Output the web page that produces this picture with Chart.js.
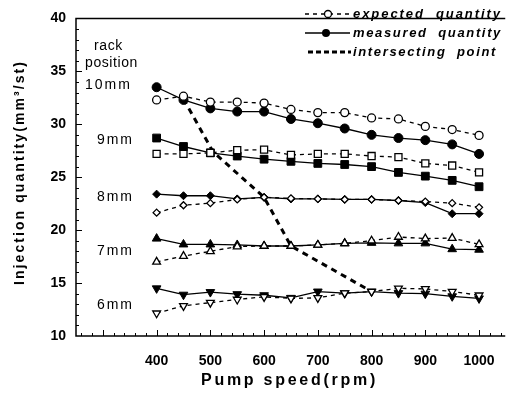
<!DOCTYPE html>
<html>
<head>
<meta charset="utf-8">
<script src="https://cdn.jsdelivr.net/npm/chart.js@4/dist/chart.umd.min.js"></script>
<style>
  html, body { margin: 0; padding: 0; background: #fff; }
  #wrap { width: 512px; height: 401px; }
</style>
</head>
<body>
<div id="wrap"><canvas id="chart"></canvas></div>
<script>
// pump speed (rpm)
const speeds = [400, 450, 500, 550, 600, 650, 700, 750, 800, 850, 900, 950, 1000];

// injection quantity (mm3/st) per rack position
const expected10 = [32.3, 32.65, 32.1, 32.1, 32.0, 31.4, 31.1, 31.1, 30.6, 30.5, 29.8, 29.5, 28.95];
const measured10 = [33.5, 32.3, 31.5, 31.2, 31.2, 30.5, 30.1, 29.6, 29.0, 28.7, 28.5, 28.1, 27.2];
const expected9 = [27.2, 27.2, 27.3, 27.55, 27.6, 27.1, 27.2, 27.2, 27.0, 26.9, 26.3, 26.1, 25.45];
const measured9 = [28.7, 27.9, 27.3, 27.0, 26.7, 26.5, 26.3, 26.2, 26.0, 25.45, 25.1, 24.7, 24.1];
const expected8 = [21.65, 22.35, 22.55, 22.9, 23.1, 23.0, 22.95, 22.9, 22.9, 22.8, 22.7, 22.55, 22.15];
const measured8 = [23.4, 23.25, 23.25, 22.95, 23.1, 22.95, 22.95, 22.9, 22.9, 22.8, 22.6, 21.55, 21.55];
const expected7 = [17.0, 17.55, 18.0, 18.45, 18.5, 18.5, 18.6, 18.75, 19.0, 19.35, 19.2, 19.25, 18.65];
const measured7 = [19.2, 18.65, 18.65, 18.6, 18.5, 18.5, 18.6, 18.75, 18.8, 18.75, 18.75, 18.2, 18.15];
const expected6 = [12.15, 12.85, 13.15, 13.45, 13.7, 13.55, 13.6, 14.05, 14.2, 14.5, 14.45, 14.2, 13.85];
const measured6 = [14.5, 13.9, 14.15, 13.95, 13.85, 13.6, 14.2, 14.05, 14.2, 14.05, 14.0, 13.75, 13.55];

// intersecting point line
const intersectX = [450, 505, 600, 650, 800];
const intersectY = [32.4, 27.4, 23.1, 18.5, 14.2];

// axis ticks
const xTicks = [400, 500, 600, 700, 800, 900, 1000];
const yTicks = [10, 15, 20, 25, 30, 35, 40];
const rackLabels = ["10mm", "9mm", "8mm", "7mm", "6mm"];

const FONT = "'Liberation Sans', Arial, sans-serif";

function pts(xs, ys) {
    return xs.map((x, i) => ({ x: x, y: ys[i] }));
}

function expectedSet(ys, style, r, rot) {
    return {
        data: pts(speeds, ys), showLine: true,
        borderColor: "#000", borderWidth: 1.3, borderDash: [4, 4],
        pointStyle: style, pointRadius: r, pointRotation: rot || 0,
        pointBackgroundColor: "#fff", pointBorderColor: "#000", pointBorderWidth: 1.3
    };
}

function measuredSet(ys, style, r, rot) {
    return {
        data: pts(speeds, ys), showLine: true,
        borderColor: "#000", borderWidth: 1.3,
        pointStyle: style, pointRadius: r, pointRotation: rot || 0,
        pointBackgroundColor: "#000", pointBorderColor: "#000", pointBorderWidth: 1
    };
}

// draw text spread out to a given width (the original uses wide spacing)
function spreadText(ctx, text, x, y, width) {
    ctx.letterSpacing = "0px";
    const w = ctx.measureText(text).width;
    const sp = Math.max(0, (width - w) / text.length);
    ctx.letterSpacing = sp + "px";
    ctx.textAlign = "left";
    ctx.fillText(text, x, y);
    ctx.letterSpacing = "0px";
}

// frame, inward ticks, titles, legend and rack labels
const decor = {
    id: "decor",
    afterDraw(chart) {
        const ctx = chart.ctx;
        const a = chart.chartArea;
        const xs = chart.scales.x, ys = chart.scales.y;
        ctx.save();
        ctx.strokeStyle = "#000";
        ctx.fillStyle = "#000";
        ctx.lineWidth = 1.5;
        ctx.beginPath();
        ctx.moveTo(a.right + 2, a.top);
        ctx.lineTo(a.left, a.top);
        ctx.lineTo(a.left, a.bottom);
        ctx.lineTo(a.right + 2, a.bottom);
        ctx.stroke();

        ctx.lineWidth = 1;
        ctx.beginPath();
        for (let v = 260; v <= 1040; v += 20) {
            const px = Math.round(xs.getPixelForValue(v)) + 0.5;
            const len = v % 100 === 0 ? 6 : 3;
            ctx.moveTo(px, a.bottom);
            ctx.lineTo(px, a.bottom - len);
        }
        for (let v = 11; v < 40; v++) {
            const py = Math.round(ys.getPixelForValue(v)) + 0.5;
            const len = v % 5 === 0 ? 6 : 3;
            ctx.moveTo(a.left, py);
            ctx.lineTo(a.left + len, py);
        }
        ctx.stroke();

        // axis titles
        ctx.textBaseline = "middle";
        ctx.font = "bold 16px " + FONT;
        spreadText(ctx, "Pump speed(rpm)", 201, 381, 177);
        ctx.save();
        ctx.translate(20, 285);
        ctx.rotate(-Math.PI / 2);
        ctx.font = "bold 14px " + FONT;
        spreadText(ctx, "Injection quantity(mm³/st)", 0, 0, 225);
        ctx.restore();

        // legend
        ctx.font = "italic bold 13px " + FONT;
        const lx0 = 305, lx1 = 350, tx = 353;
        const rows = [14, 33, 52];

        ctx.lineWidth = 1.3;
        ctx.setLineDash([4, 4]);
        ctx.beginPath(); ctx.moveTo(lx0, rows[0]); ctx.lineTo(lx1, rows[0]); ctx.stroke();
        ctx.setLineDash([]);
        ctx.beginPath(); ctx.arc(328, rows[0], 3.5, 0, Math.PI * 2);
        ctx.fillStyle = "#fff"; ctx.fill(); ctx.stroke();
        ctx.fillStyle = "#000";
        spreadText(ctx, "expected  quantity", tx, rows[0], 149);

        ctx.beginPath(); ctx.moveTo(lx0, rows[1]); ctx.lineTo(lx1, rows[1]); ctx.stroke();
        ctx.beginPath(); ctx.arc(326, rows[1], 4, 0, Math.PI * 2); ctx.fill();
        spreadText(ctx, "measured  quantity", tx, rows[1], 149);

        ctx.lineWidth = 3;
        ctx.setLineDash([5, 3]);
        ctx.beginPath(); ctx.moveTo(lx0 + 3, rows[2]); ctx.lineTo(lx1 + 1, rows[2]); ctx.stroke();
        ctx.setLineDash([]);
        spreadText(ctx, "intersecting  point", tx, rows[2], 144);

        // rack position labels
        ctx.font = "14px " + FONT;
        spreadText(ctx, "rack", 94, 46, 29);
        spreadText(ctx, "position", 85, 63, 53);
        const labelY = [85, 140, 197, 251, 305];
        rackLabels.forEach((t, i) => {
            spreadText(ctx, t, i === 0 ? 85 : 97, labelY[i], i === 0 ? 47 : 37);
        });
        ctx.restore();
    }
};

new Chart(document.getElementById("chart"), {
    type: "scatter",
    data: {
        datasets: [
            expectedSet(expected10, "circle", 4),
            measuredSet(measured10, "circle", 4.5),
            expectedSet(expected9, "rect", 5),
            measuredSet(measured9, "rect", 5.5),
            expectedSet(expected8, "rectRot", 3.5),
            measuredSet(measured8, "rectRot", 4),
            expectedSet(expected7, "triangle", 4.5),
            measuredSet(measured7, "triangle", 5),
            expectedSet(expected6, "triangle", 4.5, 180),
            measuredSet(measured6, "triangle", 5, 180),
            {
                data: pts(intersectX, intersectY), showLine: true,
                borderColor: "#000", borderWidth: 3, borderDash: [6, 5],
                pointRadius: 0
            }
        ]
    },
    options: {
        responsive: true,
        maintainAspectRatio: false,
        animation: false,
        layout: { padding: { top: 7, right: 0, left: 0, bottom: 0 } },
        plugins: { legend: { display: false }, tooltip: { enabled: false } },
        scales: {
            x: {
                type: "linear", min: 250, max: 1045,
                afterBuildTicks: s => { s.ticks = xTicks.map(v => ({ value: v })); },
                afterFit: s => { s.height = 65; },
                grid: { display: false, drawTicks: false },
                border: { display: false },
                ticks: {
                    color: "#000", padding: 17, maxRotation: 0,
                    callback: v => String(v),
                    font: { family: FONT, size: 14, weight: "bold" }
                }
            },
            y: {
                min: 10, max: 40,
                afterBuildTicks: s => { s.ticks = yTicks.map(v => ({ value: v })); },
                afterFit: s => { s.width = 76; },
                grid: { display: false, drawTicks: false },
                border: { display: false },
                ticks: {
                    color: "#000", padding: 10,
                    callback: v => String(v),
                    font: { family: FONT, size: 14, weight: "bold" }
                }
            }
        }
    },
    plugins: [decor]
});
</script>
</body>
</html>
